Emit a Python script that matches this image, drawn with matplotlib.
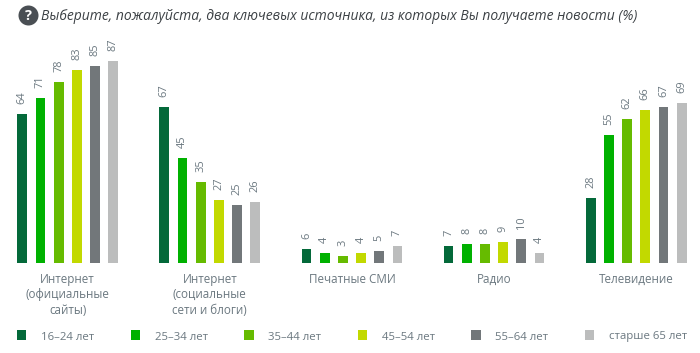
import matplotlib
matplotlib.use("Agg")
import matplotlib.pyplot as plt
from matplotlib.patches import Rectangle, Ellipse
import numpy as np

plt.rcParams['font.family'] = ['Open Sans', 'DejaVu Sans']

categories = ["Интернет\n(официальные\nсайты)", "Интернет\n(социальные\nсети и блоги)",
              "Печатные СМИ", "Радио", "Телевидение"]
age_groups = ["16–24 лет", "25–34 лет", "35–44 лет", "45–54 лет", "55–64 лет", "старше 65 лет"]
colors = ["#04693a", "#00b100", "#66bb00", "#c2d900", "#72777a", "#bcbdbd"]
age_16_24 = [64, 67, 6, 7, 28]
age_25_34 = [71, 45, 4, 8, 55]
age_35_44 = [78, 35, 3, 8, 62]
age_45_54 = [83, 27, 4, 9, 66]
age_55_64 = [85, 25, 5, 10, 67]
age_65_up = [87, 26, 7, 4, 69]
series = [age_16_24, age_25_34, age_35_44, age_45_54, age_55_64, age_65_up]
title = "Выберите, пожалуйста, два ключевых источника, из которых Вы получаете новости (%)"

W, H = 700, 353
BASE = 262.6
PX_PER_UNIT = 2.315
GROUP_PX = 142.1
STEP_PX = 18.2
CENTER0 = 67.7
TEXT = "#6b7880"

fig = plt.figure(figsize=(W / 100, H / 100), dpi=100, facecolor="white")
ax = fig.add_axes([0, (H - BASE) / H, 1, BASE / H])
ax.set_xlim(-CENTER0 / GROUP_PX, (W - CENTER0) / GROUP_PX)
ax.set_ylim(0, BASE / PX_PER_UNIT)
ax.patch.set_alpha(0)
for s in ax.spines.values():
    s.set_visible(False)
ax.set_yticks([])

x = np.arange(len(categories))
step = STEP_PX / GROUP_PX
width = 9.8 / GROUP_PX
for i, (vals, c) in enumerate(zip(series, colors)):
    pos = x + (i - 2.5) * step
    ax.bar(pos, vals, width=width, color=c)
    for p, v in zip(pos, vals):
        ax.annotate(str(v), (p, v), xytext=(0, 10), textcoords="offset pixels",
                    rotation=90, ha="center", va="bottom", fontsize=7.9, color=TEXT)

ax.set_xticks(x)
ax.set_xticklabels(categories, fontsize=8.4, color=TEXT, linespacing=1.25)
ax.tick_params(axis="x", length=0, pad=7.3)

# legend
for i, (lab, c) in enumerate(zip(age_groups, colors)):
    left = 17 + 113.6 * i
    fig.add_artist(Rectangle((left / W, 1 - 339.5 / H), 9.3 / W, 9.3 / H,
                             transform=fig.transFigure, color=c, lw=0))
    fig.text((left + 24) / W, 1 - 337 / H, lab, fontsize=8.2, color=TEXT,
             ha="left", va="center")

# title with icon
fig.add_artist(Ellipse((28.5 / W, 1 - 15.5 / H), 20 / W, 20 / H,
                       transform=fig.transFigure, color="#4a4f54", lw=0, zorder=5))
fig.text(28.5 / W, 1 - 15.5 / H, "?", fontsize=10.5, fontweight="bold",
         color="white", ha="center", va="center", zorder=6)
fig.text(41 / W, 1 - 16 / H, title, fontsize=10.02, style="italic", color="#3c4145",
         ha="left", va="center")

fig.savefig("out.png", dpi=100)
